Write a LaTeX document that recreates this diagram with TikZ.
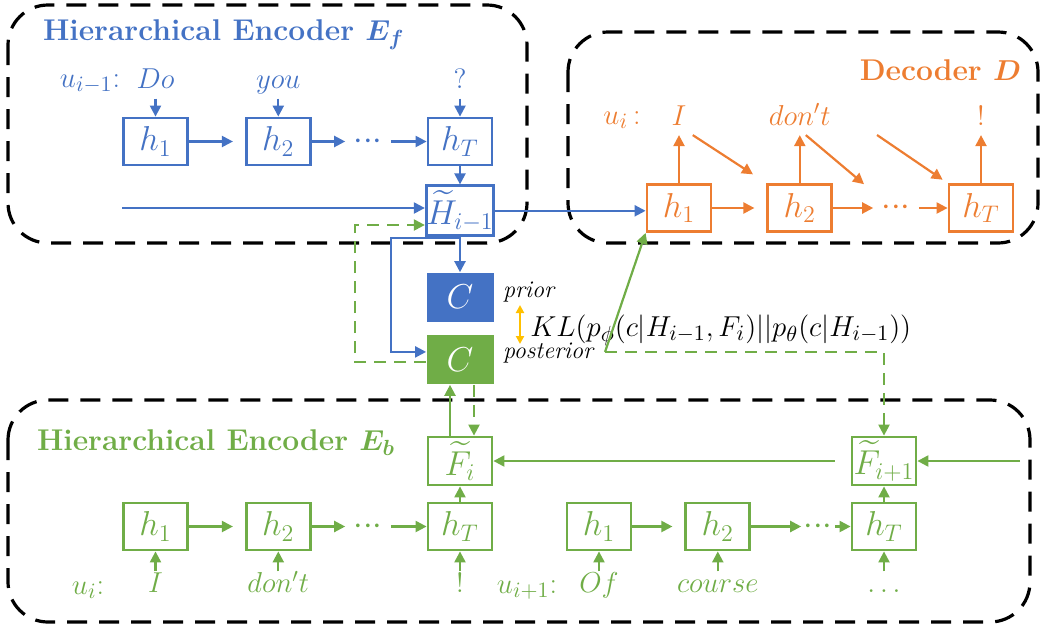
\documentclass[tikz,border=0pt]{standalone}
\usepackage{amsmath}
\usepackage{amssymb}
\usepackage{tikz}
\usetikzlibrary{arrows.meta,positioning,calc}
\definecolor{encblue}{HTML}{4472C4}
\definecolor{decorange}{HTML}{ED7D31}
\definecolor{bkgreen}{HTML}{70AD47}
\definecolor{klgold}{HTML}{FFC000}
\newcommand{\tdots}{${\cdot}{\cdot}{\cdot}$}
\tikzset{
    grp/.style={
        draw=black,
        line width=1.6pt,
        dash pattern=on 10pt off 6pt,
        rounded corners=20pt
    },
    hbox/.style={
        draw,
        line width=1.4pt,
        minimum width=32pt,
        minimum height=23.5pt,
        inner sep=0pt,
        font=\fontsize{18}{20}\selectfont
    },
    cbox/.style={
        minimum width=33.5pt,
        minimum height=24.5pt,
        inner sep=0pt,
        text=white,
        font=\fontsize{18}{20}\selectfont
    },
    word/.style={
        inner sep=3pt,
        text height=1.7ex,
        text depth=0.4ex,
        font=\fontsize{14}{17}\selectfont
    },
    hdots/.style={font=\fontsize{18}{20}\selectfont},
    ulab/.style={inner sep=0pt, font=\fontsize{15}{18}\selectfont},
    grptitle/.style={font=\fontsize{15}{18}\selectfont\bfseries},
    flow/.style={line width=1.1pt, -{Triangle[length=5.5pt,width=5.5pt]}},
    gdash/.style={dash pattern=on 6pt off 4pt},
}

\begin{document}
\begin{tikzpicture}[x=0.5pt,y=-0.5pt]
    \useasboundingbox (0,0) rectangle (1043,632);

    % groups
    \draw[grp] (8,5) rectangle (527,243);
    \draw[grp] (568,32) rectangle (1038,243);
    \draw[grp] (8,400) rectangle (1030,622);

    \node[grptitle, encblue, anchor=west] (tenc) at (36,35) {Hierarchical Encoder~{\boldmath$E_f$}};
    \node[grptitle, decorange, anchor=east] (tdec) at (1028,70) {Decoder {\boldmath$D$}};
    \node[grptitle, bkgreen, anchor=west] (tbk) at (30,443) {Hierarchical Encoder~{\boldmath$E_b$}};

    % forward encoder
    \begin{scope}[encblue]
       \node[hbox] (eh1) at (155.5,141.5) {$h_1$};
       \node[hbox, right=28pt of eh1] (eh2) {$h_2$};
       \node[hdots, inner sep=4pt] (edots) at (368,141.5) {\tdots};
       \node[hbox] (ehT) at (460,141.5) {$h_T$};
       \node[hbox, below=9pt of ehT, minimum height=25pt] (eH) {$\widetilde{H}_{i-1}$};

       \node[word, above=9pt of eh1] (wdo) {$Do$};
       \node[word, above=9pt of eh2] (wyou) {$you$};
       \node[word, above=9pt of ehT] (wq) {?};
       \node[ulab] (uprev) at (90,84) {$u_{i-1}$:};
       \coordinate (ctx) at (122,208);

       \draw[flow] (wdo) -- (eh1);
       \draw[flow] (wyou) -- (eh2);
       \draw[flow] (wq) -- (ehT);
       \draw[flow, shorten >=6pt] (eh1) -- (eh2);
       \draw[flow] (eh2) -- (edots);
       \draw[flow] (edots) -- (ehT);
       \draw[flow] (ehT) -- (eH);
       \draw[flow] (ctx) -- (ctx -| eH.west);
    \end{scope}

    % decoder
    \begin{scope}[decorange]
       \node[hbox] (dh1) at (679,208) {$h_1$};
       \node[hbox, right=27pt of dh1] (dh2) {$h_2$};
       \node[hdots, inner sep=4pt] (ddots) at (896,208) {\tdots};
       \node[hbox] (dhT) at (981,208) {$h_T$};

       \node[word, above=24pt of dh1] (wi) {$I$};
       \node[word, above=24pt of dh2] (wdont) {$don't$};
       \node[word, above=24pt of dhT] (wexcl) {!};
       \node[ulab] (ucur) at (622,120) {$u_i$\,:};
       \coordinate (dfeed) at (877,135);

       \draw[flow] (dh1) -- (wi);
       \draw[flow] (dh2) -- (wdont);
       \draw[flow] (dhT) -- (wexcl);
       \draw[flow, shorten >=6pt] (dh1) -- (dh2);
       \draw[flow] (dh2) -- (ddots);
       \draw[flow] (ddots) -- (dhT);
       \draw[flow, shorten >=8pt] (wi.south east) -- (dh2.north west);
       \draw[flow, shorten >=6pt] ([xshift=3pt]wdont.south) -- (ddots.north west);
       \draw[flow, shorten >=3pt] (dfeed) -- (dhT.north west);
    \end{scope}

    \draw[flow, encblue] (eH.east) -- (eH.east -| dh1.west);

    % latent variable
    \node[cbox, fill=encblue, below=17.5pt of eH] (cprior) {$C$};
    \node[cbox, fill=bkgreen, below=6.5pt of cprior] (cpost) {$C$};
    \node[anchor=west, font=\large\itshape] (lprior) at (496,292) {prior};
    \node[anchor=west, font=\large\itshape] (lpost) at (496,353) {posterior};
    \node[anchor=west, font=\fontsize{15}{18}\selectfont, inner sep=0pt] (kl) at (530,330)
        {$KL(p_\phi(c|H_{i-1},F_i)||p_\theta(c|H_{i-1}))$};
    \coordinate (klup) at (520,305);
    \coordinate (kldn) at (520,344);
    \draw[klgold, line width=1.1pt, {Triangle[length=4pt,width=4pt]}-{Triangle[length=4pt,width=4pt]}] (klup) -- (kldn);

    \coordinate (ebend) at (391,238);
    \draw[flow, encblue] (eH) -- (cprior);
    \draw[flow, encblue] (eH.south) |- (ebend) |- ([yshift=4pt]cpost.west);

    % backward encoder
    \begin{scope}[bkgreen]
       \node[hbox] (bh1) at (155.5,526.5) {$h_1$};
       \node[hbox, right=28pt of bh1] (bh2) {$h_2$};
       \node[hdots, inner sep=4pt] (bdots) at (368,526.5) {\tdots};
       \node[hbox] (bhT) at (460,526.5) {$h_T$};
       \node[hbox, minimum height=24pt] (Fi) at (460,461) {$\widetilde{F}_i$};

       \node[hbox] (ch1) at (599,526.5) {$h_1$};
       \node[hbox, right=26pt of ch1] (ch2) {$h_2$};
       \node[hdots, inner sep=1pt] (cdots) at (818,526.5) {\tdots};
       \node[hbox] (chT) at (884,526.5) {$h_T$};
       \node[hbox, minimum height=24pt] (Fn) at (884,461) {$\widetilde{F}_{i+1}$};

       \node[word, below=10pt of bh1] (bi) {$I$};
       \node[word, below=10pt of bh2] (bdont) {$don't$};
       \node[word, below=10pt of bhT] (bexcl) {!};
       \node[word, below=10pt of ch1] (cof) {$Of$};
       \node[word, below=10pt of ch2] (ccourse) {$course$};
       \node[word, below=10pt of chT] (cmore) {$\ldots$};
       \node[ulab] (ucur2) at (88,590) {$u_i$:};
       \node[ulab] (unext) at (527,590) {$u_{i+1}$:};
       \coordinate (bkin) at (1020,461);
       \coordinate (split) at (605,352);
       \coordinate (gbend) at (355,225);

       \draw[flow] (bi) -- (bh1);
       \draw[flow] (bdont) -- (bh2);
       \draw[flow] (bexcl) -- (bhT);
       \draw[flow] (cof) -- (ch1);
       \draw[flow] (ccourse) -- (ch2);
       \draw[flow] (cmore) -- (chT);
       \draw[flow, shorten >=6pt] (bh1) -- (bh2);
       \draw[flow] (bh2) -- (bdots);
       \draw[flow] (bdots) -- (bhT);
       \draw[flow, shorten >=6pt] (ch1) -- (ch2);
       \draw[flow] (ch2) -- (cdots);
       \draw[flow] (cdots) -- (chT);
       \draw[flow] (bhT) -- (Fi);
       \draw[flow] (chT) -- (Fn);
       \draw[flow, shorten <=8pt] (Fn) -- (Fi);
       \draw[flow] (bkin) -- (bkin -| Fn.east);

       \draw[flow] ([xshift=-5pt]Fi.north) -- ([xshift=-5pt]cpost.south);
       \draw[flow, gdash] ([xshift=7pt]cpost.south) -- ([xshift=7pt]Fi.north);
       \draw[flow, gdash] ([yshift=-1pt]cpost.west) -| (gbend) -- (gbend -| eH.west);
       \draw[flow] (split) -- (dh1.south west);
       \draw[flow, gdash] (split) -| (Fn.north);
    \end{scope}

\end{tikzpicture}
\end{document}
